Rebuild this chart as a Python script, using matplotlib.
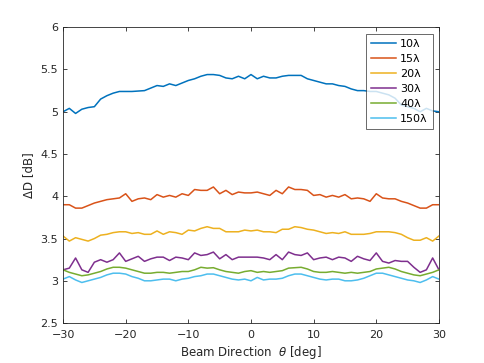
import numpy as np
import matplotlib
matplotlib.use("Agg")
import matplotlib.pyplot as plt

theta = np.arange(-30, 31)

d10 = [5.00, 5.04, 4.98, 5.03, 5.05, 5.06, 5.15, 5.19, 5.22, 5.24,
       5.24, 5.24, 5.245, 5.25, 5.28, 5.31, 5.30, 5.33, 5.31, 5.34,
       5.37, 5.39, 5.42, 5.44, 5.44, 5.43, 5.40, 5.39, 5.42, 5.39,
       5.44,
       5.39, 5.42, 5.40, 5.40, 5.42, 5.43, 5.43, 5.43, 5.39, 5.37,
       5.35, 5.33, 5.33, 5.31, 5.30, 5.27, 5.25, 5.25, 5.24, 5.24,
       5.22, 5.20, 5.16, 5.08, 5.06, 5.04, 5.00, 5.04, 5.01, 5.00]

d15 = [3.90, 3.90, 3.86, 3.86, 3.89, 3.92, 3.94, 3.96, 3.97, 3.98,
       4.03, 3.94, 3.97, 3.98, 3.96, 4.02, 3.99, 4.01, 3.99, 4.03,
       4.01, 4.08, 4.07, 4.07, 4.11, 4.03, 4.07, 4.02, 4.05, 4.04,
       4.04,
       4.05, 4.03, 4.01, 4.07, 4.03, 4.11, 4.08, 4.08, 4.07, 4.01,
       4.02, 3.99, 4.01, 3.99, 4.02, 3.97, 3.98, 3.97, 3.94, 4.03,
       3.98, 3.97, 3.97, 3.94, 3.92, 3.89, 3.86, 3.86, 3.90, 3.90]

d20 = [3.53, 3.47, 3.51, 3.49, 3.47, 3.50, 3.54, 3.55, 3.57, 3.58,
       3.58, 3.56, 3.57, 3.55, 3.55, 3.59, 3.55, 3.58, 3.57, 3.55,
       3.60, 3.59, 3.62, 3.64, 3.62, 3.62, 3.58, 3.58, 3.58, 3.60,
       3.59,
       3.60, 3.58, 3.58, 3.57, 3.61, 3.61, 3.64, 3.63, 3.61, 3.60,
       3.58, 3.56, 3.57, 3.56, 3.58, 3.55, 3.55, 3.55, 3.56, 3.58,
       3.58, 3.58, 3.57, 3.55, 3.51, 3.48, 3.48, 3.51, 3.47, 3.53]

d30 = [3.13, 3.15, 3.27, 3.13, 3.10, 3.22, 3.25, 3.22, 3.25, 3.33,
       3.23, 3.26, 3.29, 3.23, 3.26, 3.28, 3.28, 3.24, 3.28, 3.27,
       3.25, 3.33, 3.30, 3.31, 3.34, 3.26, 3.31, 3.25, 3.28, 3.28,
       3.28,
       3.28, 3.27, 3.25, 3.31, 3.25, 3.34, 3.31, 3.30, 3.33, 3.25,
       3.27, 3.28, 3.25, 3.28, 3.27, 3.23, 3.29, 3.26, 3.24, 3.33,
       3.23, 3.21, 3.24, 3.23, 3.23, 3.16, 3.10, 3.13, 3.27, 3.13]

d40 = [3.13, 3.10, 3.08, 3.06, 3.07, 3.09, 3.11, 3.14, 3.16, 3.16,
       3.15, 3.13, 3.11, 3.09, 3.09, 3.10, 3.10, 3.09, 3.10, 3.11,
       3.11, 3.13, 3.16, 3.15, 3.155, 3.13, 3.11, 3.10, 3.09, 3.11,
       3.12,
       3.10, 3.11, 3.10, 3.11, 3.12, 3.15, 3.155, 3.16, 3.14, 3.11,
       3.10, 3.10, 3.11, 3.10, 3.09, 3.10, 3.09, 3.10, 3.11, 3.14,
       3.15, 3.16, 3.14, 3.11, 3.09, 3.07, 3.06, 3.08, 3.10, 3.13]

d150 = [3.02, 3.05, 3.01, 2.98, 3.00, 3.02, 3.04, 3.07, 3.09, 3.09,
        3.08, 3.05, 3.03, 3.00, 3.00, 3.01, 3.02, 3.02, 3.00, 3.02,
        3.03, 3.05, 3.06, 3.08, 3.08, 3.06, 3.04, 3.02, 3.01, 3.02,
        3.00,
        3.04, 3.01, 3.02, 3.02, 3.03, 3.06, 3.08, 3.08, 3.06, 3.04,
        3.02, 3.01, 3.02, 3.02, 3.00, 3.00, 3.01, 3.03, 3.06, 3.09,
        3.09, 3.07, 3.05, 3.03, 3.01, 3.00, 2.98, 3.01, 3.05, 3.02]

labels = ['10\u03bb', '15\u03bb', '20\u03bb', '30\u03bb', '40\u03bb', '150\u03bb']
colors = ['#0072BD', '#D95319', '#EDB120', '#7E2F8E', '#77AC30', '#4DBEEE']

fig = plt.figure(figsize=(4.85, 3.63), dpi=100)
ax = fig.add_axes([0.13, 0.11, 0.775, 0.815])

for y, lab, c in zip([d10, d15, d20, d30, d40, d150], labels, colors):
    ax.plot(theta, y, color=c, lw=1.1, label=lab)

ax.set_xlim(-30, 30)
ax.set_ylim(2.5, 6)
ax.set_xticks(np.arange(-30, 31, 10))
ax.set_yticks([2.5, 3, 3.5, 4, 4.5, 5, 5.5, 6])
ax.set_yticklabels(['2.5', '3', '3.5', '4', '4.5', '5', '5.5', '6'])

gray = '#262626'
for s in ax.spines.values():
    s.set_color(gray)
    s.set_linewidth(0.6)
ax.tick_params(direction='in', length=3, width=0.6, colors=gray,
               labelsize=8, top=True, right=True)
ax.tick_params(axis='x', pad=5)

ax.set_xlabel('Beam Direction  $\\theta$ [deg]', fontsize=8.5, color=gray, labelpad=3)
ax.set_ylabel('\u0394D [dB]', fontsize=8.5, color=gray, labelpad=4)

leg = ax.legend(loc='upper right', bbox_to_anchor=(0.99, 0.985), fontsize=8,
                frameon=True, fancybox=False, handlelength=2.2, handletextpad=0.4,
                labelspacing=0.45, borderpad=0.45, borderaxespad=0.2)
leg.get_frame().set_edgecolor(gray)
leg.get_frame().set_linewidth(0.6)

fig.savefig('out.png', dpi=100)
